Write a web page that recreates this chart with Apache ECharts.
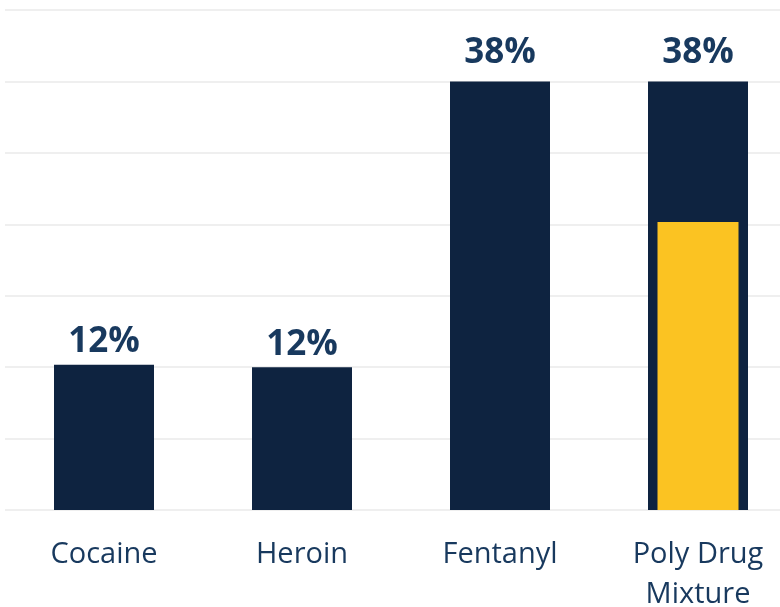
<!DOCTYPE html>
<html>
<head>
<meta charset="utf-8">
<script src="https://cdn.jsdelivr.net/npm/echarts@6/dist/echarts.min.js"></script>
<style>
  html, body { margin: 0; padding: 0; background: #fff; }
  #chart { width: 780px; height: 607px; }
</style>
</head>
<body>
<div id="chart"></div>
<script>
var categories = ['Cocaine', 'Heroin', 'Fentanyl', 'Poly Drug\nMixture'];
var shareValues = [12.7, 12.5, 37.5, 37.5];
var shareLabels = ['12%', '12%', '38%', '38%'];
var innerValues = ['-', '-', '-', 25.2];

var navy = '#0e2340';
var textBlue = '#18395e';
var yellow = '#fbc322';

var myChart = echarts.init(document.getElementById('chart'));

// the short bars carry their labels a bit closer in the original
var labelGap = function(v) { return v < 20 ? 5 : 11; };

var option = {
  animation: false,
  backgroundColor: '#ffffff',
  // plot runs a little past the right edge of the picture
  grid: {
    left: 5, top: 10, width: 792, height: 500,
    containLabel: false,
    outerBoundsMode: 'none'
  },
  xAxis: [{
    type: 'category',
    data: categories,
    axisLine: { show: false },
    axisTick: { show: false },
    axisLabel: {
      color: textBlue,
      fontFamily: 'Open Sans',
      fontSize: 29,
      lineHeight: 40,
      margin: 25
    }
  }, {
    type: 'category',
    data: categories,
    show: false
  }],
  yAxis: {
    type: 'value',
    min: 0,
    max: 43.75,
    interval: 6.25,
    axisLabel: { show: false },
    axisLine: { show: false },
    axisTick: { show: false },
    splitLine: { lineStyle: { color: '#efefef', width: 2 } }
  },
  series: [{
    type: 'bar',
    data: shareValues.map(function(v) {
      return { value: v, label: { distance: labelGap(v) } };
    }),
    barWidth: 100,
    itemStyle: { color: navy },
    label: {
      show: true,
      position: 'top',
      color: textBlue,
      fontFamily: 'Open Sans',
      fontWeight: 'bold',
      fontSize: 35,
      formatter: function(p) { return shareLabels[p.dataIndex]; }
    }
  }, {
    type: 'bar',
    xAxisIndex: 1,
    data: innerValues,
    barWidth: 81,
    itemStyle: { color: yellow }
  }]
};

myChart.setOption(option);
</script>
</body>
</html>
